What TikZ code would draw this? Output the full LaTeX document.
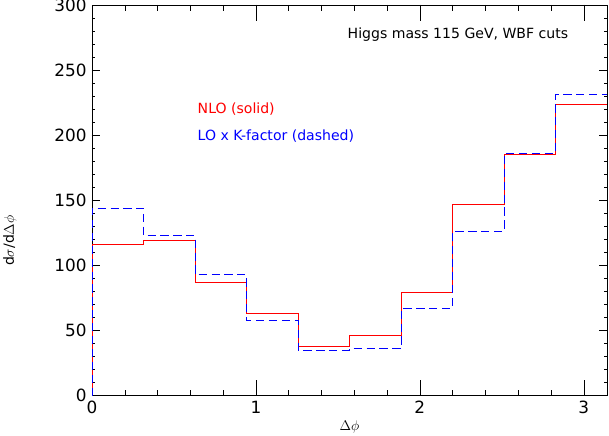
\documentclass[tikz,border=0pt]{standalone}
\usepackage{fontspec}
\setmainfont{DejaVu Sans}
\begin{document}
\begin{tikzpicture}[x=4.92cm, y=0.0391cm, every node/.style={font=\large}]
    \useasboundingbox (-0.561,-30.7) rectangle (3.154,303.8);
    % --- Frame and ticks ---
    \draw[semithick] (0,0) rectangle (3.1416,300);
    \foreach \t in {0.2,0.4,...,3.1} {
        \draw (\t,0) -- ++(0,4.5);
        \draw (\t,300) -- ++(0,-4.5);
    }
    \foreach \t in {1,2,3} {
        \draw (\t,0) -- ++(0,12) node[pos=0, below=1pt, font=\Large] {\t};
        \draw (\t,300) -- ++(0,-12);
    }
    \node[below=1pt, font=\Large] at (0,0) {0};
    \foreach \t in {10,20,...,290} {
        \draw (0,\t) -- ++(0.0183,0);
        \draw (3.1416,\t) -- ++(-0.0183,0);
    }
    \foreach \t in {50,100,...,250} {
        \draw (0,\t) -- ++(0.0488,0);
        \draw (3.1416,\t) -- ++(-0.0488,0);
    }
    \foreach \t in {0,50,...,300}
        \node[left=1pt, font=\Large] at (0,\t) {\t};
    % --- Histograms ---
    \draw[red, semithick] (0,0) -- (0,116) -- (0.314,116) -- (0.314,119) -- (0.628,119) -- (0.628,87) -- (0.942,87) -- (0.942,63) -- (1.257,63) -- (1.257,38) -- (1.571,38) -- (1.571,46) -- (1.885,46) -- (1.885,79) -- (2.199,79) -- (2.199,147) -- (2.513,147) -- (2.513,185) -- (2.827,185) -- (2.827,224) -- (3.1416,224);
    \draw[color=blue, semithick, dash pattern=on 7pt off 4pt] (0,0) -- (0,144) -- (0.314,144) -- (0.314,123) -- (0.628,123) -- (0.628,93) -- (0.942,93) -- (0.942,58) -- (1.257,58) -- (1.257,35) -- (1.571,35) -- (1.571,36) -- (1.885,36) -- (1.885,67) -- (2.199,67) -- (2.199,126) -- (2.513,126) -- (2.513,186) -- (2.827,186) -- (2.827,231) -- (3.1416,231);
    % --- Labels ---
    \node[anchor=east] (title) at (2.93,277) {Higgs mass 115 GeV, WBF cuts};
    \node[anchor=west, red] (nlo) at (0.62,220) {NLO (solid)};
    \node[anchor=west, blue] (lo) at (0.62,199) {LO x K-factor (dashed)};
    \node (xlab) at (1.57,-24) {$\Delta\phi$};
    \node[rotate=90] (ylab) at (-0.5,119) {d$\sigma$/d$\Delta\phi$};
\end{tikzpicture}
\end{document}
